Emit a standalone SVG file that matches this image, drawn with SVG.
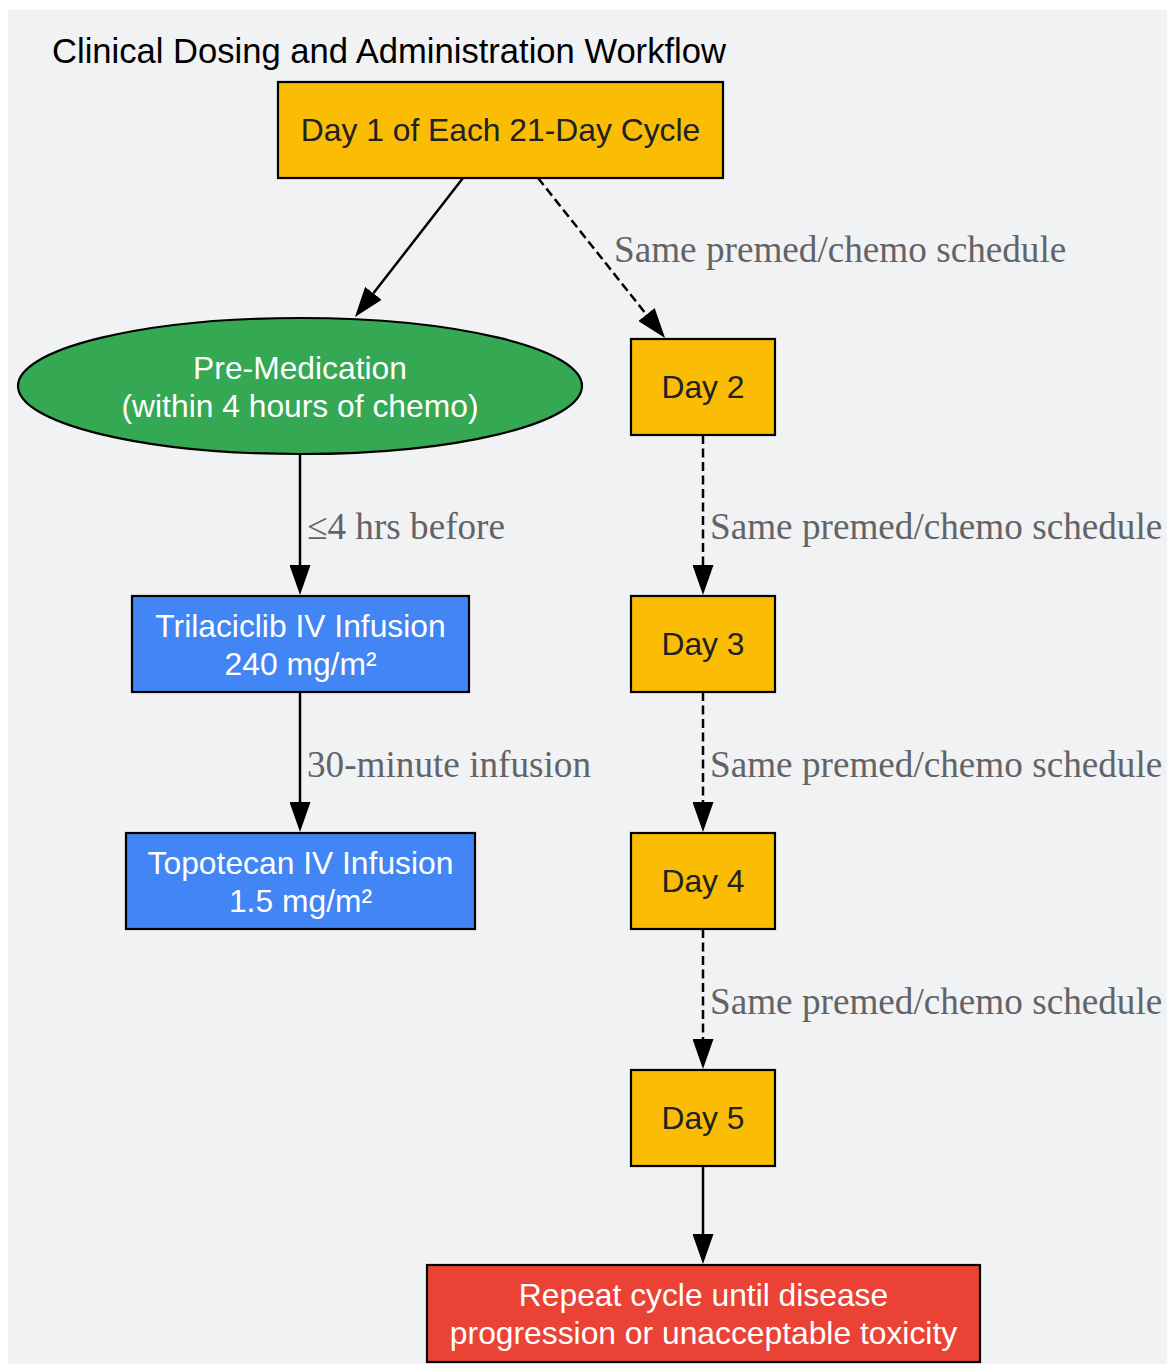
<svg xmlns="http://www.w3.org/2000/svg" width="1167" height="1364" viewBox="0 0 1167 1364">
<style>
.bg{fill:#f1f2f4}
.box{stroke:#000;stroke-width:2.2}
.yel{fill:#fbbc04}
.grn{fill:#34a853}
.blu{fill:#4285f4}
.red{fill:#ea4335}
.t{font-family:"Liberation Sans",Arial,sans-serif;font-size:31.8px;text-anchor:middle}
.dk{fill:#202124}
.wh{fill:#ffffff}
.title{font-family:"Liberation Sans",Arial,sans-serif;font-size:34.6px;fill:#000}
.lbl{font-family:"Liberation Serif","Times New Roman",serif;font-size:37.2px;fill:#636366}
.e{stroke:#000;stroke-width:2.5;fill:none}
.d{stroke-dasharray:9,4.5}
</style>
<defs>
<marker id="ah" markerUnits="userSpaceOnUse" markerWidth="30" markerHeight="21" viewBox="0 0 30 21" refX="0" refY="10.5" orient="auto">
<path d="M0,0 L30,10.5 L0,21 z" fill="#000" stroke="none"/>
</marker>
</defs>
<rect class="bg" x="8" y="10" width="1170" height="1370"/>
<text class="title" x="52" y="63">Clinical Dosing and Administration Workflow</text>
<g id="edges">
<line class="e" x1="463" y1="178" x2="373.4" y2="293.3" marker-end="url(#ah)"/>
<line class="e d" x1="538" y1="178" x2="646.4" y2="314.5" marker-end="url(#ah)"/>
<text class="lbl" x="614" y="262">Same premed/chemo schedule</text>
<line class="e" x1="300" y1="454" x2="300" y2="565" marker-end="url(#ah)"/>
<text class="lbl" x="307" y="539">≤4 hrs before</text>
<line class="e" x1="300" y1="692" x2="300" y2="802" marker-end="url(#ah)"/>
<text class="lbl" x="307" y="777">30-minute infusion</text>
<line class="e d" x1="703" y1="435" x2="703" y2="565" marker-end="url(#ah)"/>
<text class="lbl" x="710" y="539">Same premed/chemo schedule</text>
<line class="e d" x1="703" y1="692" x2="703" y2="802" marker-end="url(#ah)"/>
<text class="lbl" x="710" y="777">Same premed/chemo schedule</text>
<line class="e d" x1="703" y1="929" x2="703" y2="1039" marker-end="url(#ah)"/>
<text class="lbl" x="710" y="1014">Same premed/chemo schedule</text>
<line class="e" x1="703" y1="1166" x2="703" y2="1234" marker-end="url(#ah)"/>
</g>
<g id="day1">
<rect class="box yel" x="278" y="82" width="445" height="96"/>
<text class="t dk" x="500.5" y="141">Day 1 of Each 21-Day Cycle</text>
</g>
<g id="premed">
<ellipse class="box grn" cx="300" cy="386" rx="282" ry="68"/>
<text class="t wh" x="300" y="379">Pre-Medication</text>
<text class="t wh" x="300" y="417">(within 4 hours of chemo)</text>
</g>
<g id="trilaciclib">
<rect class="box blu" x="132" y="596" width="337" height="96"/>
<text class="t wh" x="300.5" y="637">Trilaciclib IV Infusion</text>
<text class="t wh" x="300.5" y="675">240 mg/m²</text>
</g>
<g id="topotecan">
<rect class="box blu" x="126" y="833" width="349" height="96"/>
<text class="t wh" x="300.5" y="874">Topotecan IV Infusion</text>
<text class="t wh" x="300.5" y="912">1.5 mg/m²</text>
</g>
<g id="day2">
<rect class="box yel" x="631" y="339" width="144" height="96"/>
<text class="t dk" x="703" y="398">Day 2</text>
</g>
<g id="day3">
<rect class="box yel" x="631" y="596" width="144" height="96"/>
<text class="t dk" x="703" y="655">Day 3</text>
</g>
<g id="day4">
<rect class="box yel" x="631" y="833" width="144" height="96"/>
<text class="t dk" x="703" y="892">Day 4</text>
</g>
<g id="day5">
<rect class="box yel" x="631" y="1070" width="144" height="96"/>
<text class="t dk" x="703" y="1129">Day 5</text>
</g>
<g id="repeat">
<rect class="box red" x="427" y="1265" width="553" height="97"/>
<text class="t wh" x="703.5" y="1306">Repeat cycle until disease</text>
<text class="t wh" x="703.5" y="1344">progression or unacceptable toxicity</text>
</g>
</svg>
